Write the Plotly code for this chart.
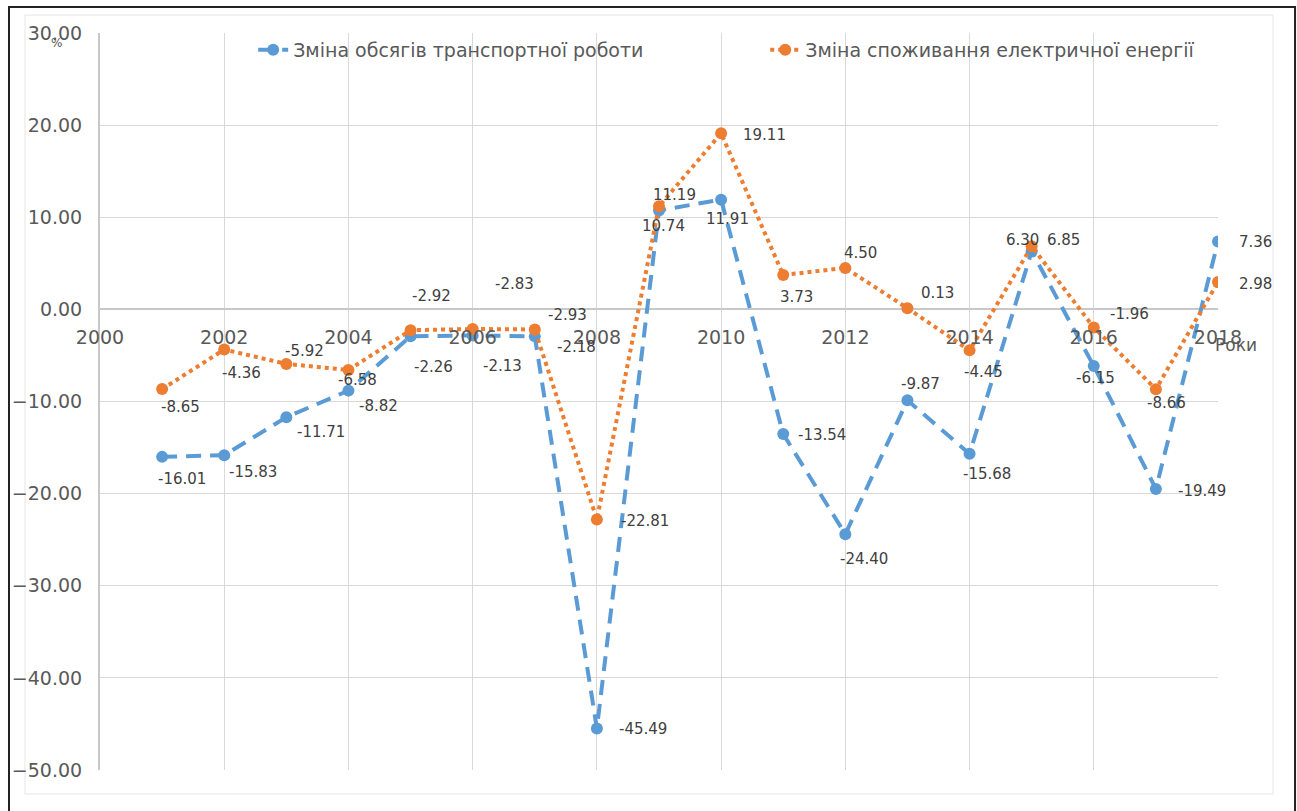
import plotly.graph_objects as go

# ---- data ----
years = list(range(2001, 2019))
transport = [-16.01, -15.83, -11.71, -8.82, -2.92, -2.83, -2.93, -45.49, 10.74, 11.91,
             -13.54, -24.40, -9.87, -15.68, 6.30, -6.15, -19.49, 7.36]
electricity = [-8.65, -4.36, -5.92, -6.58, -2.26, -2.13, -2.18, -22.81, 11.19, 19.11,
               3.73, 4.50, 0.13, -4.45, 6.85, -1.96, -8.66, 2.98]
name_transport = "Зміна обсягів транспортної роботи"
name_electricity = "Зміна споживання електричної енергії"
y_ticks = [30, 20, 10, 0, -10, -20, -30, -40, -50]
x_ticks = list(range(2000, 2019, 2))

# ---- label offsets (pixels: dx right, dy down) ----
off_transport = [(20, 22), (29, 17), (35, 15), (30, 15), (21, -40), (42, -51), (33, -21),
                 (46, 1), (4, 16), (6, 19), (39, 1), (19, 25), (13, -16), (17, 20),
                 (-9, -11), (2, 12), (46, 2), (37, 0)]
off_electricity = [(18, 18), (17, 23), (18, -13), (9, 10), (23, 37), (30, 37), (42, 18),
                   (48, 1), (15, -11), (43, 2), (13, 22), (15, -15), (30, -15), (14, 22),
                   (32, -6), (36, -13), (11, 14), (37, 2)]

BLUE = "#5B9BD5"
ORANGE = "#ED7D31"
GRID = "#d9d9d9"
TXT = "#595959"
LBL = "#404040"
FONT = "DejaVu Sans"

fig = go.Figure()
fig.add_trace(go.Scatter(
    x=years, y=transport, name=name_transport, mode="lines+markers",
    line=dict(color=BLUE, width=4, dash="15px,9px"),
    marker=dict(color=BLUE, size=12), legend="legend"))
fig.add_trace(go.Scatter(
    x=years, y=electricity, name=name_electricity, mode="lines+markers",
    line=dict(color=ORANGE, width=4, dash="dot"),
    marker=dict(color=ORANGE, size=12), legend="legend2"))

ann = []
for xs, ys, offs in ((years, transport, off_transport), (years, electricity, off_electricity)):
    for xv, yv, (dx, dy) in zip(xs, ys, offs):
        ann.append(dict(x=xv, y=yv, xref="x", yref="y", text=f"{yv:.2f}", showarrow=False,
                        xshift=dx, yshift=-dy, xanchor="center", yanchor="middle",
                        font=dict(family=FONT, size=15, color=LBL)))

ann.append(dict(x=-0.0385, y=0.986, xref="paper", yref="paper", text="%", showarrow=False,
                xanchor="center", yanchor="middle", font=dict(family=FONT, size=12, color=TXT)))
ann.append(dict(x=1.016, y=0.577, xref="paper", yref="paper", text="Роки", showarrow=False,
                xanchor="center", yanchor="middle", font=dict(family=FONT, size=17, color=TXT)))

shapes = [
    dict(type="rect", xref="paper", yref="paper", x0=-0.0671, x1=1.0492, y0=-0.0326, y1=1.0244,
         line=dict(color="#e6e6e6", width=1), fillcolor="rgba(0,0,0,0)", layer="below"),
    dict(type="rect", xref="paper", yref="paper", x0=-0.0814, x1=1.0689, y0=-0.08, y1=1.0353,
         line=dict(color="#222222", width=2), fillcolor="rgba(0,0,0,0)", layer="below"),
]

fig.update_layout(
    width=1297, height=811,
    margin=dict(l=100, r=79, t=33, b=41),
    paper_bgcolor="white", plot_bgcolor="white",
    showlegend=True,
    legend=dict(x=0.137, y=0.977, xanchor="left", yanchor="middle", orientation="h",
                bgcolor="rgba(0,0,0,0)", font=dict(family=FONT, size=19, color=TXT)),
    legend2=dict(x=0.595, y=0.977, xanchor="left", yanchor="middle", orientation="h",
                 bgcolor="rgba(0,0,0,0)", font=dict(family=FONT, size=19, color=TXT)),
    annotations=ann, shapes=shapes,
    xaxis=dict(range=[2000, 2018], tickvals=x_ticks, showgrid=True, gridcolor=GRID, gridwidth=1,
               zeroline=False, showline=False, anchor="free", position=0.625,
               ticks="", ticklabelstandoff=15,
               tickfont=dict(family=FONT, size=19, color=TXT)),
    yaxis=dict(range=[-50, 30], tickvals=y_ticks, tickformat=".2f", showgrid=True,
               gridcolor=GRID, gridwidth=1, zeroline=True, zerolinecolor="#c8c8c8",
               zerolinewidth=2, showline=True, linecolor="#c8c8c8", linewidth=2,
               ticks="", ticklabelstandoff=12,
               tickfont=dict(family=FONT, size=19, color=TXT)),
)

fig.write_html("out.html")
